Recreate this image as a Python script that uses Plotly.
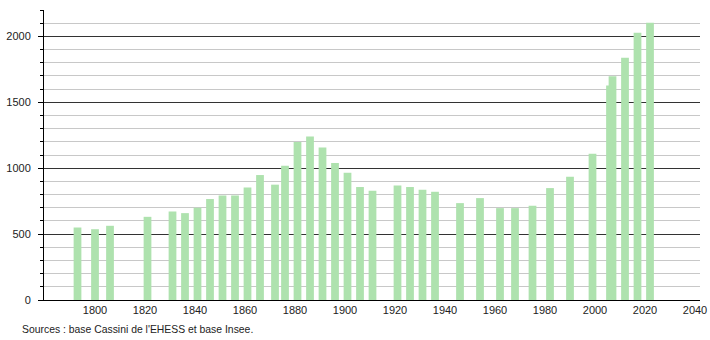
import plotly.graph_objects as go

years = [1793, 1800, 1806, 1821, 1831, 1836, 1841, 1846, 1851, 1856, 1861, 1866,
         1872, 1876, 1881, 1886, 1891, 1896, 1901, 1906, 1911, 1921, 1926, 1931,
         1936, 1946, 1954, 1962, 1968, 1975, 1982, 1990, 1999, 2006, 2007, 2012,
         2017, 2022]
population = [550, 537, 563, 631, 672, 659, 700, 766, 793, 793, 854, 948,
              875, 1019, 1199, 1240, 1156, 1039, 966, 857, 829, 869, 857, 837,
              821, 735, 773, 697, 697, 715, 849, 935, 1110, 1627, 1698, 1838,
              2028, 2104]
x_tick_values = [1800, 1820, 1840, 1860, 1880, 1900, 1920, 1940, 1960, 1980, 2000, 2020, 2040]
y_tick_values = [0, 500, 1000, 1500, 2000]
source_text = "Sources : base Cassini de l'EHESS et base Insee."

fig = go.Figure()
fig.add_trace(go.Bar(
    x=years, y=population, width=3.1,
    marker=dict(color="rgb(174,226,174)", line=dict(width=0)),
    hoverinfo="x+y",
))

fig.update_layout(
    width=710, height=340,
    margin=dict(l=44, r=10, t=10, b=40, autoexpand=False),
    paper_bgcolor="white", plot_bgcolor="white",
    showlegend=False,
    font=dict(family="Liberation Sans, Arial, sans-serif", size=11, color="#222"),
    xaxis=dict(
        range=[1779.6, 2042], tickvals=x_tick_values,
        showgrid=False, zeroline=False, automargin=False,
        showline=True, linecolor="black", linewidth=1,
        ticks="", tickfont=dict(size=11, color="#222"),
    ),
    yaxis=dict(
        range=[0, 2200], tickvals=y_tick_values,
        showgrid=True, gridcolor="#333333", gridwidth=1,
        zeroline=False, automargin=False,
        showline=True, linecolor="black", linewidth=1,
        ticks="outside", ticklen=5, tickcolor="black",
        ticklabelstandoff=5,
        tickfont=dict(size=11, color="#222"),
        minor=dict(dtick=100, showgrid=True, gridcolor="#c8c8c8", gridwidth=1,
                   ticks="outside", ticklen=3, tickcolor="black"),
    ),
    annotations=[dict(
        text=source_text, xref="paper", yref="paper",
        x=-0.0366, y=-0.1, xanchor="left", yanchor="middle",
        showarrow=False, font=dict(size=10.4, color="#222"),
    )],
)

fig.write_html("out.html")
